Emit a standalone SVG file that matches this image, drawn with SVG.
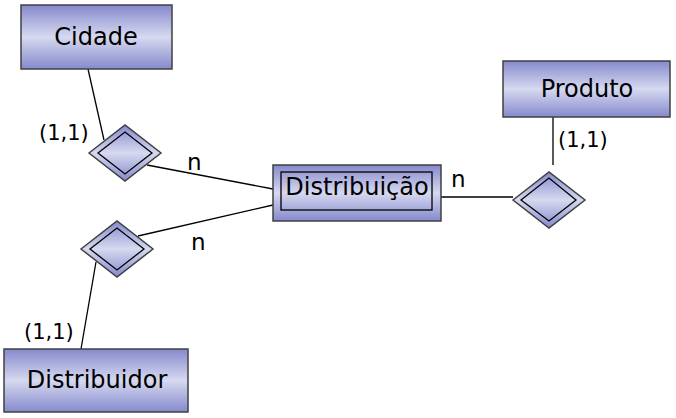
<svg xmlns="http://www.w3.org/2000/svg" width="676" height="418" viewBox="0 0 676 418">
<defs>
<linearGradient id="g" x1="0" y1="0" x2="0" y2="1">
<stop offset="0" stop-color="#8589cc"/>
<stop offset="0.5" stop-color="#d6d9ef"/>
<stop offset="1" stop-color="#8589cc"/>
</linearGradient>
<style>
.ent{fill:url(#g);stroke:#404040;stroke-width:1.5}
.inner{fill:none;stroke:#000;stroke-width:1.3}
.dia{fill:url(#g);stroke:#404040;stroke-width:1.5}
.dinner{fill:none;stroke:#000;stroke-width:1.3}
.lbl{font-family:"DejaVu Sans","Noto Sans",sans-serif;font-size:24px;fill:#000;text-anchor:middle}
.card{font-family:"DejaVu Sans","Noto Sans",sans-serif;font-size:21px;fill:#000}
.n{font-family:"DejaVu Sans","Noto Sans",sans-serif;font-size:23px;fill:#000}
.conn{stroke:#000;stroke-width:1.3;fill:none}
</style>
</defs>
<rect width="676" height="418" fill="#fff"/>
<g id="connectors">
<line class="conn" x1="88" y1="69" x2="104" y2="140"/>
<line class="conn" x1="147" y1="165" x2="273" y2="189"/>
<line class="conn" x1="138" y1="236" x2="273" y2="205"/>
<line class="conn" x1="96" y1="262" x2="81" y2="349"/>
<line class="conn" x1="441" y1="197" x2="513" y2="197"/>
<line class="conn" x1="553" y1="117" x2="553" y2="165"/>
</g>
<g id="cidade">
<rect class="ent" x="21" y="5" width="151" height="64"/>
<text class="lbl" x="96" y="45">Cidade</text>
</g>
<g id="produto">
<rect class="ent" x="503" y="61" width="167" height="56"/>
<text class="lbl" x="587" y="97">Produto</text>
</g>
<g id="distribuidor">
<rect class="ent" x="4" y="349" width="184" height="63"/>
<text class="lbl" x="97" y="388">Distribuidor</text>
</g>
<g id="distribuicao">
<rect class="ent" x="273" y="165" width="168" height="56"/>
<rect class="inner" x="281" y="172" width="151" height="38"/>
<text class="lbl" x="357" y="195">Distribuição</text>
</g>
<g id="rel-cidade">
<polygon class="dia" points="89,153 125,125 161,153 125,181"/>
<polygon class="dinner" points="98,153 125,132 152,153 125,174"/>
</g>
<g id="rel-distribuidor">
<polygon class="dia" points="81,249 117,221 153,249 117,277"/>
<polygon class="dinner" points="90,249 117,228 144,249 117,270"/>
</g>
<g id="rel-produto">
<polygon class="dia" points="513,200 549,172 585,200 549,228"/>
<polygon class="dinner" points="521,200 549,178 576,200 549,221"/>
</g>
<g id="labels">
<text class="card" x="39" y="140">(1,1)</text>
<text class="n" x="187" y="170">n</text>
<text class="n" x="191" y="250">n</text>
<text class="card" x="24" y="339">(1,1)</text>
<text class="n" x="451" y="187">n</text>
<text class="card" x="558" y="147">(1,1)</text>
</g>
</svg>
